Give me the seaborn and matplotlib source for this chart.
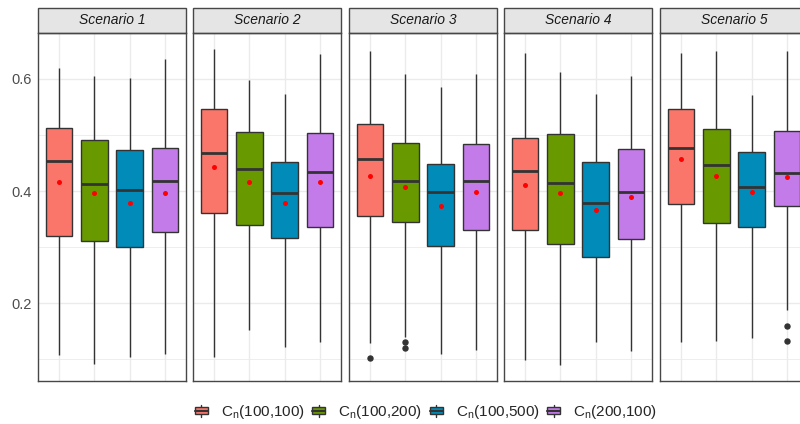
import numpy as np
import pandas as pd
import matplotlib
matplotlib.use("Agg")
import matplotlib.pyplot as plt
from matplotlib.patches import Rectangle, Patch
from matplotlib.lines import Line2D
from matplotlib.legend_handler import HandlerBase
import seaborn as sns

# ---- data: five-number summaries, means and outliers per scenario/method ----
scenarios = ["Scenario 1", "Scenario 2", "Scenario 3", "Scenario 4", "Scenario 5"]
methods = ["C(100,100)", "C(100,200)", "C(100,500)", "C(200,100)"]
legend_labels = [r"C$_\mathregular{n}$(100,100)", r"C$_\mathregular{n}$(100,200)",
                 r"C$_\mathregular{n}$(100,500)", r"C$_\mathregular{n}$(200,100)"]

whisk_lo = [[0.107, 0.091, 0.104, 0.109],
            [0.104, 0.152, 0.121, 0.130],
            [0.128, 0.139, 0.109, 0.117],
            [0.098, 0.090, 0.130, 0.115],
            [0.130, 0.133, 0.137, 0.188]]
q1 = [[0.320, 0.311, 0.301, 0.327],
      [0.361, 0.339, 0.317, 0.335],
      [0.356, 0.344, 0.302, 0.330],
      [0.331, 0.305, 0.282, 0.314],
      [0.376, 0.343, 0.336, 0.374]]
median = [[0.453, 0.412, 0.402, 0.418],
          [0.468, 0.440, 0.396, 0.434],
          [0.457, 0.418, 0.398, 0.418],
          [0.436, 0.414, 0.378, 0.398],
          [0.477, 0.446, 0.408, 0.432]]
q3 = [[0.513, 0.491, 0.474, 0.477],
      [0.546, 0.505, 0.451, 0.504],
      [0.520, 0.485, 0.449, 0.484],
      [0.495, 0.501, 0.451, 0.475],
      [0.546, 0.510, 0.470, 0.507]]
whisk_hi = [[0.620, 0.605, 0.602, 0.636],
            [0.653, 0.599, 0.574, 0.644],
            [0.649, 0.609, 0.585, 0.608],
            [0.647, 0.612, 0.574, 0.606],
            [0.647, 0.649, 0.571, 0.650]]
means = [[0.417, 0.396, 0.379, 0.396],
         [0.442, 0.417, 0.379, 0.417],
         [0.426, 0.408, 0.373, 0.398],
         [0.411, 0.396, 0.366, 0.389],
         [0.457, 0.427, 0.398, 0.425]]
outliers = [[[], [], [], []],
            [[], [], [], []],
            [[0.102], [0.130, 0.120], [], []],
            [[], [], [], []],
            [[], [], [], [0.159, 0.133]]]

colors = ["#FA756A", "#689A00", "#008BB8", "#C37BEA"]


def box_sample(lo, a, m, b, hi, outs):
    """Sample whose quartiles/whiskers/outliers reproduce the given summary."""
    k = len(outs) + 1
    return list(outs) + [lo] + [a] * k + [m] + [b] * k + [hi] * k


rows = []
for s, scen in enumerate(scenarios):
    for j, meth in enumerate(methods):
        for v in box_sample(whisk_lo[s][j], q1[s][j], median[s][j], q3[s][j],
                            whisk_hi[s][j], outliers[s][j]):
            rows.append((scen, meth, v))
df = pd.DataFrame(rows, columns=["scenario", "method", "value"])

# ---- style ----
sns.set_theme(style="white")
plt.rcParams["font.family"] = ["Liberation Sans", "DejaVu Sans"]
plt.rcParams["mathtext.fontset"] = "custom"
plt.rcParams["mathtext.rm"] = "Liberation Sans"

W, H = 800, 424
fig = plt.figure(figsize=(W / 100, H / 100), dpi=100)
fig.patch.set_facecolor("white")

panel_left = [38, 193, 349, 504, 660]
panel_w, panel_top, panel_bot = 148, 33, 381
strip_h = 25
edge = "#333333"
frame = "#474747"
grid_c = "#EBEBEB"
palette = dict(zip(methods, colors))

for s, scen in enumerate(scenarios):
    ax = fig.add_axes([panel_left[s] / W, (H - panel_bot) / H,
                       panel_w / W, (panel_bot - panel_top) / H])
    sub = df[df["scenario"] == scen]
    sns.boxplot(data=sub, x="method", y="value", hue="method", order=methods,
                hue_order=methods, palette=palette, saturation=1, width=0.75,
                linecolor=edge, linewidth=1.0, showcaps=False, whis=1.5,
                fliersize=3.6,
                flierprops=dict(marker="o", markerfacecolor=edge,
                                markeredgecolor=edge),
                medianprops=dict(linewidth=2.0, color=edge),
                legend=False, ax=ax)
    sns.stripplot(x=methods, y=means[s], order=methods, color="red",
                  jitter=False, size=3.6, linewidth=0, ax=ax, zorder=5,
                  legend=False)

    ax.set_xlim(-0.6, 3.6)
    ax.set_ylim(0.061, 0.682)
    ax.set_xticks(range(len(methods)))
    ax.set_yticks([0.2, 0.4, 0.6])
    ax.set_yticks([0.1, 0.3, 0.5], minor=True)
    ax.grid(which="major", color=grid_c, linewidth=1.0)
    ax.grid(which="minor", axis="y", color=grid_c, linewidth=0.6)
    ax.set_axisbelow(True)
    ax.set_xlabel("")
    ax.set_ylabel("")
    ax.tick_params(axis="x", length=0, labelbottom=False)
    ax.tick_params(axis="y", which="minor", length=0)
    if s == 0:
        ax.set_yticklabels(["0.2", "0.4", "0.6"])
        ax.tick_params(axis="y", which="major", length=2.5, width=0.8,
                       color=edge, labelcolor="#4D4D4D", labelsize=10.5, pad=2)
    else:
        ax.tick_params(axis="y", which="major", length=0, labelleft=False)
    for sp in ax.spines.values():
        sp.set_visible(True)
        sp.set_color(frame)
        sp.set_linewidth(1.0)

    # facet strip
    sh = strip_h / (panel_bot - panel_top)
    ax.add_patch(Rectangle((0, 1), 1, sh, transform=ax.transAxes,
                           facecolor="#E5E5E5", edgecolor=frame, linewidth=1.0,
                           clip_on=False))
    ax.text(0.5, 1 + sh / 2, scen, transform=ax.transAxes, ha="center",
            va="center", fontsize=10, fontstyle="italic", color="#1A1A1A")


class BoxKeyHandler(HandlerBase):
    """Small boxplot glyph for legend keys."""

    def create_artists(self, legend, orig_handle, xdescent, ydescent, width,
                       height, fontsize, trans):
        x0, y0 = -xdescent, -ydescent
        cx, cy = x0 + width / 2, y0 + height / 2
        bh = height * 0.7
        whisk = Line2D([cx, cx], [cy - height * 0.55, cy + height * 0.55],
                       color=edge, linewidth=1.0, transform=trans)
        rect = Rectangle((x0, cy - bh / 2), width, bh,
                         facecolor=orig_handle.get_facecolor(),
                         edgecolor=edge, linewidth=1.0, transform=trans)
        med = Line2D([x0, x0 + width], [cy, cy], color=edge, linewidth=1.5,
                     transform=trans)
        return [whisk, rect, med]


handles = [Patch(facecolor=c, edgecolor=edge) for c in colors]
fig.legend(handles=handles, labels=legend_labels, loc="center",
           bbox_to_anchor=(426 / W, 12 / H), ncol=4, frameon=False,
           fontsize=11, handlelength=0.85, handleheight=0.7,
           handletextpad=0.85, columnspacing=0.5,
           handler_map={Patch: BoxKeyHandler()})

fig.savefig("out.png", dpi=100)
